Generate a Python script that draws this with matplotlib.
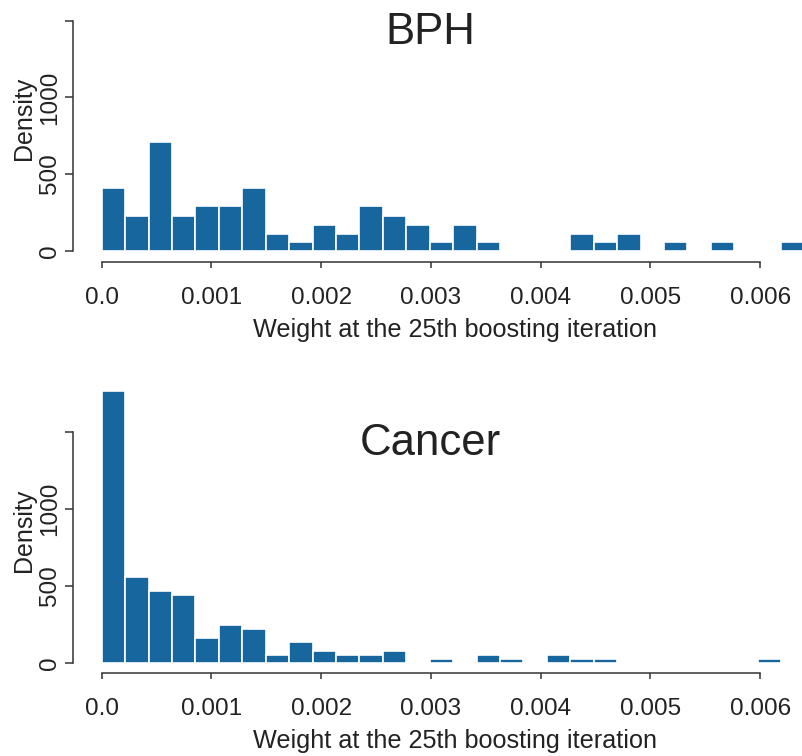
import matplotlib.pyplot as plt
import numpy as np

# -------------------- Data --------------------------
BIN_WIDTH = 0.0002135
N_BINS = 30

bph_density = [411, 228, 709, 228, 289, 289, 411, 112, 55, 170,
               112, 289, 228, 170, 55, 170, 55, 0, 0, 0,
               112, 55, 112, 0, 55, 0, 55, 0, 0, 55]

cancer_density = [1767, 557, 469, 441, 161, 246, 220, 52, 135, 78,
                  52, 52, 78, 0, 26, 0, 52, 26, 0, 52,
                  26, 26, 0, 0, 0, 0, 0, 0, 26, 0]

x_ticks = [0.0, 0.001, 0.002, 0.003, 0.004, 0.005, 0.006]
x_ticklabels = ["0.0", "0.001", "0.002", "0.003", "0.004", "0.005", "0.006"]
y_ticks = [0, 500, 1000, 1500]
y_ticklabels = ["0", "500", "1000", ""]

XLABEL = "Weight at the 25th boosting iteration"

BAR_COLOR = "#17669e"
TEXT_COLOR = "#222222"
AXIS_COLOR = "#333333"

plt.rcParams["font.family"] = ["Liberation Sans", "DejaVu Sans"]

W, H = 803, 756
fig = plt.figure(figsize=(W / 100, H / 100), dpi=100)

PX_PER_X = 109750.0      # pixels per unit on the x axis
X0_PX = 101.7            # pixel column of x = 0


def _panel(bottom_px, top_px, zero_px, px_per_y, density, title, title_base_px):
    left_px, right_px = 73, 803
    ax = fig.add_axes([left_px / W, 1 - bottom_px / H,
                       (right_px - left_px) / W, (bottom_px - top_px) / H])

    edges = np.arange(N_BINS + 1) * BIN_WIDTH
    ax.bar(edges[:-1], density, width=BIN_WIDTH, align="edge",
           color=BAR_COLOR, edgecolor="white", linewidth=1.2, zorder=2)

    ax.set_xlim((left_px - X0_PX) / PX_PER_X, (right_px - X0_PX) / PX_PER_X)
    ax.set_ylim(-(bottom_px - zero_px) / px_per_y, (zero_px - top_px) / px_per_y)

    for s in ("top", "right"):
        ax.spines[s].set_visible(False)
    ax.spines["left"].set_bounds(0, 1500)
    ax.spines["bottom"].set_bounds(0, 0.006)
    for s in ("left", "bottom"):
        ax.spines[s].set_color(AXIS_COLOR)
        ax.spines[s].set_linewidth(1.1)

    ax.set_xticks(x_ticks)
    ax.set_xticklabels(x_ticklabels, fontsize=17.5, color=TEXT_COLOR)
    ax.set_yticks(y_ticks)
    ax.set_yticklabels(y_ticklabels, fontsize=17.5, color=TEXT_COLOR,
                       rotation=90, va="center")
    ax.tick_params(axis="x", length=4.5, width=1.1, color=AXIS_COLOR, pad=13.5)
    ax.tick_params(axis="y", length=5.5, width=1.1, color=AXIS_COLOR, pad=3)

    ax.set_ylabel("Density", fontsize=18, color=TEXT_COLOR, va="center")
    ax.yaxis.set_label_coords((24 - left_px) / (right_px - left_px),
                              (bottom_px - (zero_px - 132)) / (bottom_px - top_px))

    ax.set_xlabel(XLABEL, fontsize=18.2, color=TEXT_COLOR, va="baseline")
    ax.xaxis.set_label_coords((455 - left_px) / (right_px - left_px),
                              -74.5 / (bottom_px - top_px))

    fig.text(430 / W, 1 - title_base_px / H, title, fontsize=31.5,
             color=TEXT_COLOR, ha="center", va="baseline")
    return ax


_panel(262.3, 15, 250.8, 0.1534, bph_density, "BPH", 44.3)
_panel(673.3, 385, 662.7, 0.1536, cancer_density, "Cancer", 455)

fig.savefig("out.png", dpi=100)
